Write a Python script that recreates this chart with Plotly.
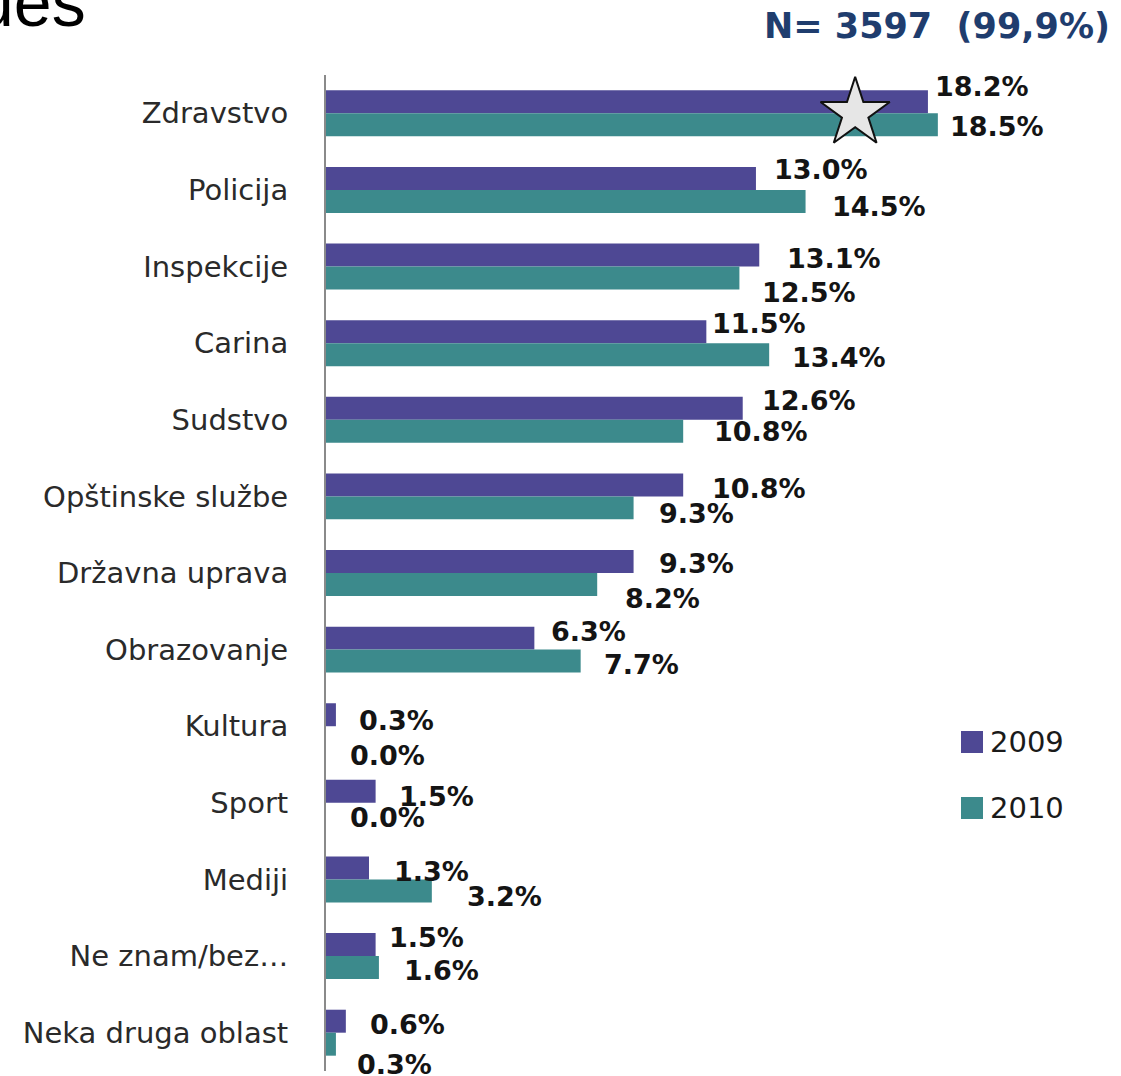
import plotly.graph_objects as go

# Survey shares by area, two survey waves
categories = [
    "Zdravstvo", "Policija", "Inspekcije", "Carina", "Sudstvo",
    "Opštinske službe", "Državna uprava", "Obrazovanje", "Kultura",
    "Sport", "Mediji", "Ne znam/bez…", "Neka druga oblast",
]
share_2009 = [18.2, 13.0, 13.1, 11.5, 12.6, 10.8, 9.3, 6.3, 0.3, 1.5, 1.3, 1.5, 0.6]
share_2010 = [18.5, 14.5, 12.5, 13.4, 10.8, 9.3, 8.2, 7.7, 0.0, 0.0, 3.2, 1.6, 0.3]
years = ["2009", "2010"]
sample_note = "N= 3597  (99,9%)"
heading_tail = "ues"

# Label nudges in pixels (right, down) from the end/centre of each bar
nudge_2009 = [(5, -16), (16, -9), (26, 3), (4, -9), (17, -8), (27, 3), (23, 1),
              (15, -7), (21, 5), (21, 5), (23, 3), (11, -8), (22, 3)]
nudge_2010 = [(10, 2), (24, 6), (21, 15), (21, 3), (29, 1), (23, 6), (26, 14),
              (21, 4), (22, 18), (22, 4), (33, 6), (23, 3), (19, 21)]

W, H = 1121, 1076
ML, MR, MT, MB = 326, 117, 75, 5
X_MAX = 20.5

C2009 = "#4E4894"
C2010 = "#3C8A8C"
LABEL_FONT = dict(family="DejaVu Sans", size=27, color="#141414")


def px_x(px):
    return (px - ML) / (W - ML - MR)


def px_y(py):
    return (H - MB - py) / (H - MT - MB)


fig = go.Figure()
fig.add_trace(go.Bar(y=categories, x=share_2009, name=years[0], orientation="h",
                     marker=dict(color=C2009, line=dict(width=0)), showlegend=False))
fig.add_trace(go.Bar(y=categories, x=share_2010, name=years[1], orientation="h",
                     marker=dict(color=C2010, line=dict(width=0)), showlegend=False))

# Star highlight on the leading category
fig.add_trace(go.Scatter(
    x=[share_2010[0] - 2.5], y=[categories[0]], mode="markers", showlegend=False,
    marker=dict(symbol="star", size=52, color="#e6e6e6", line=dict(color="#111", width=2)),
    cliponaxis=False, hoverinfo="skip"))

annotations = []
for vals, nudges, base in ((share_2009, nudge_2009, -11), (share_2010, nudge_2010, 11)):
    for cat, v, (dx, dy) in zip(categories, vals, nudges):
        annotations.append(dict(
            x=v, y=cat, xref="x", yref="y", text=f"<b>{v:.1f}%</b>", showarrow=False,
            xanchor="left", yanchor="middle", xshift=dx, yshift=-(base + dy),
            font=LABEL_FONT))

annotations.append(dict(
    x=px_x(762), y=px_y(4), xref="paper", yref="paper", text=f"<b>{sample_note}</b>",
    showarrow=False, xanchor="left", yanchor="top",
    font=dict(family="DejaVu Sans", size=35, color="#1F3D6E")))
annotations.append(dict(
    x=px_x(88), y=px_y(42), xref="paper", yref="paper", text=heading_tail,
    showarrow=False, xanchor="right", yanchor="bottom",
    font=dict(family="Liberation Sans", size=68, color="#000")))

# Legend drawn as swatches and labels
shapes = []
for yr, col, cy in ((years[0], C2009, 742), (years[1], C2010, 808)):
    shapes.append(dict(type="rect", xref="paper", yref="paper",
                       x0=px_x(961), x1=px_x(983), y0=px_y(cy + 11), y1=px_y(cy - 11),
                       fillcolor=col, line=dict(width=0)))
    annotations.append(dict(x=px_x(988), y=px_y(cy), xref="paper", yref="paper", text=yr,
                            showarrow=False, xanchor="left", yanchor="middle",
                            font=dict(family="DejaVu Sans", size=29, color="#1a1a1a")))

fig.update_layout(
    width=W, height=H, margin=dict(l=ML, r=MR, t=MT, b=MB),
    paper_bgcolor="white", plot_bgcolor="white",
    barmode="group", bargap=0.40, bargroupgap=0,
    xaxis=dict(range=[0, X_MAX], visible=False, fixedrange=True),
    yaxis=dict(range=[len(categories) - 0.5, -0.5], showline=True, linecolor="#8a8a8a",
               linewidth=2, ticks="", showgrid=False, ticklabelstandoff=30,
               tickfont=dict(family="DejaVu Sans", size=29, color="#2a2a2a")),
    annotations=annotations, shapes=shapes, showlegend=False,
)

fig.write_html("out.html")
